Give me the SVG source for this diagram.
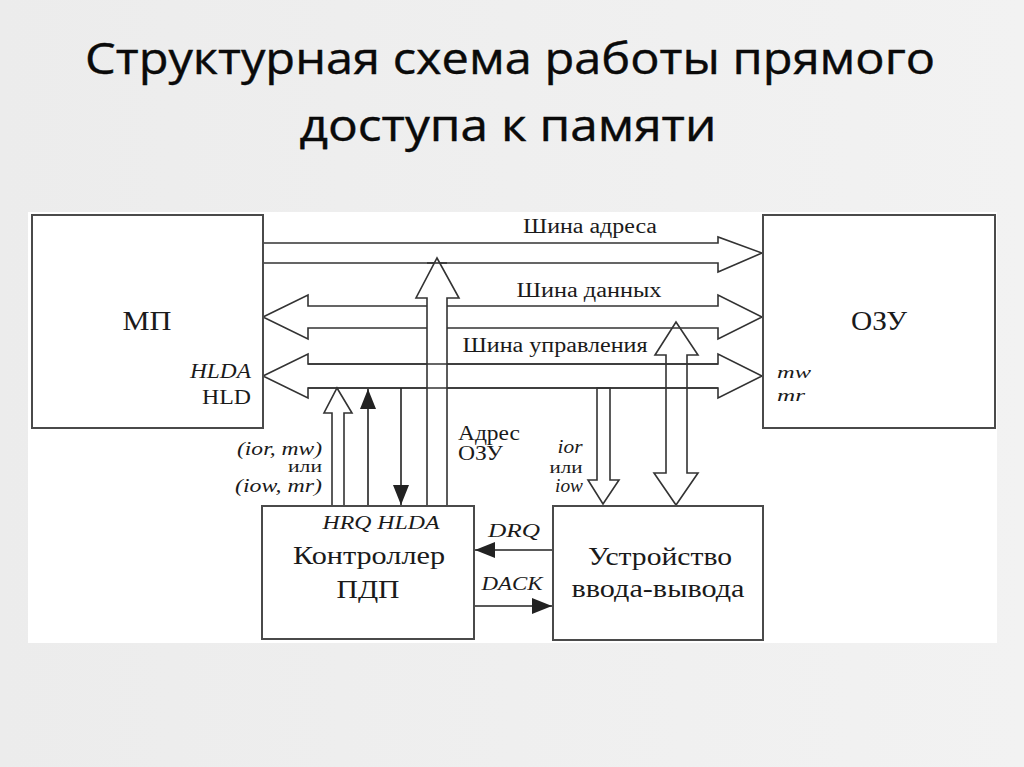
<svg xmlns="http://www.w3.org/2000/svg" width="1024" height="767" viewBox="0 0 1024 767">
<defs>
<linearGradient id="bg" x1="0" y1="0" x2="1" y2="0">
<stop offset="0" stop-color="#ececec"/>
<stop offset="1" stop-color="#f2f2f2"/>
</linearGradient>
<marker id="ah" markerWidth="20" markerHeight="16" refX="20" refY="8" orient="auto" markerUnits="userSpaceOnUse">
<path d="M0,0 L20,8 L0,16 Z" fill="#222"/>
</marker>
</defs>
<style>
.title{font-family:"Open Sans","Noto Sans",sans-serif;font-size:43px;fill:#0a0a0a;stroke:#0a0a0a;stroke-width:0.4}
.box{fill:#fff;stroke:#4a4a4a;stroke-width:2}
.bus{fill:#fff;stroke:#333;stroke-width:1.6}
.ol{fill:none;stroke:#333;stroke-width:1.6}
.ln{fill:none;stroke:#222;stroke-width:1.6}
.t{font-family:"Liberation Serif","Times New Roman",serif;fill:#1a1a1a}
.i{font-style:italic}
</style>
<rect x="0" y="0" width="1024" height="767" fill="url(#bg)"/>
<rect x="28" y="212" width="969" height="431" fill="#fff"/>
<text class="title" x="510" y="74" text-anchor="middle" textLength="850" lengthAdjust="spacingAndGlyphs">Структурная схема работы прямого</text>
<text class="title" x="508" y="141" text-anchor="middle" textLength="417" lengthAdjust="spacingAndGlyphs">доступа к памяти</text>

<g id="connectors">
<polygon class="bus" points="263,243 718,243 718,237 762,253 718,272 718,263 263,263"/>
<polygon class="bus" points="263,317 308,295 308,306 718,306 718,295 762,317 718,339 718,328 308,328 308,339"/>
<polygon class="bus" points="263,376 308,354 308,364 718,364 718,354 762,376 718,398 718,388 308,388 308,398"/>
<polygon class="bus" points="427,506 427,298 416,298 437,258 459,298 447,298 447,506"/>
<line class="ol" x1="308" y1="364" x2="718" y2="364"/>
<line class="ol" x1="308" y1="388" x2="718" y2="388"/>
<line class="ol" x1="427" y1="263" x2="447" y2="263"/>
<polygon class="bus" points="332,506 332,413 324,413 337,388 352,413 344,413 344,506"/>
<polygon class="ol" points="666,473 666,355 655,355 676,322 698,355 687,355 687,473 698,473 676,505 654,473"/>
<polygon class="ol" points="597,388 597,480 588,480 603,504 619,480 610,480 610,388"/>
<line class="ln" x1="368" y1="506" x2="368" y2="389" marker-end="url(#ah)"/>
<line class="ln" x1="401" y1="388" x2="401" y2="505" marker-end="url(#ah)"/>
<line class="ln" x1="553" y1="550" x2="475" y2="550" marker-end="url(#ah)"/>
<line class="ln" x1="474" y1="606" x2="552" y2="606" marker-end="url(#ah)"/>
</g>

<g id="mp">
<rect class="box" x="32" y="215" width="231" height="213"/>
<text class="t" x="147" y="330" font-size="27" text-anchor="middle" textLength="49" lengthAdjust="spacingAndGlyphs">МП</text>
<text class="t i" x="251" y="378" font-size="20" text-anchor="end" textLength="61" lengthAdjust="spacingAndGlyphs">HLDA</text>
<text class="t" x="251" y="404" font-size="21" text-anchor="end" textLength="49" lengthAdjust="spacingAndGlyphs">HLD</text>
</g>

<g id="ozu">
<rect class="box" x="763" y="215" width="232" height="213"/>
<text class="t" x="879" y="330" font-size="27" text-anchor="middle" textLength="56" lengthAdjust="spacingAndGlyphs">ОЗУ</text>
<text class="t i" x="777" y="378" font-size="17" textLength="34" lengthAdjust="spacingAndGlyphs">mw</text>
<text class="t i" x="777" y="401" font-size="17" textLength="28" lengthAdjust="spacingAndGlyphs">mr</text>
</g>

<g id="controller">
<rect class="box" x="262" y="506" width="212" height="133"/>
<text class="t i" x="381" y="529" font-size="19" text-anchor="middle" textLength="117" lengthAdjust="spacingAndGlyphs">HRQ HLDA</text>
<text class="t" x="369" y="564" font-size="25" text-anchor="middle" textLength="152" lengthAdjust="spacingAndGlyphs">Контроллер</text>
<text class="t" x="368" y="598" font-size="25" text-anchor="middle" textLength="63" lengthAdjust="spacingAndGlyphs">ПДП</text>
</g>

<g id="io">
<rect class="box" x="553" y="506" width="210" height="134"/>
<text class="t" x="660" y="565" font-size="25" text-anchor="middle" textLength="144" lengthAdjust="spacingAndGlyphs">Устройство</text>
<text class="t" x="658" y="597" font-size="25" text-anchor="middle" textLength="173" lengthAdjust="spacingAndGlyphs">ввода-вывода</text>
</g>

<g id="labels">
<text class="t" x="590" y="233" font-size="20" text-anchor="middle" textLength="134" lengthAdjust="spacingAndGlyphs">Шина адреса</text>
<text class="t" x="589" y="297" font-size="20" text-anchor="middle" textLength="145" lengthAdjust="spacingAndGlyphs">Шина данных</text>
<text class="t" x="555" y="352" font-size="20" text-anchor="middle" textLength="185" lengthAdjust="spacingAndGlyphs">Шина управления</text>
<text class="t" x="458" y="440" font-size="20" textLength="62" lengthAdjust="spacingAndGlyphs">Адрес</text>
<text class="t" x="458" y="460" font-size="20" textLength="45" lengthAdjust="spacingAndGlyphs">ОЗУ</text>
<text class="t i" x="322" y="455" font-size="18" text-anchor="end" textLength="85" lengthAdjust="spacingAndGlyphs">(ior, mw)</text>
<text class="t" x="322" y="472" font-size="17" text-anchor="end" textLength="34" lengthAdjust="spacingAndGlyphs">или</text>
<text class="t i" x="322" y="492" font-size="18" text-anchor="end" textLength="87" lengthAdjust="spacingAndGlyphs">(iow, mr)</text>
<text class="t i" x="570" y="453" font-size="18" text-anchor="middle" textLength="25" lengthAdjust="spacingAndGlyphs">ior</text>
<text class="t" x="566" y="473" font-size="17" text-anchor="middle" textLength="33" lengthAdjust="spacingAndGlyphs">или</text>
<text class="t i" x="569" y="492" font-size="18" text-anchor="middle" textLength="28" lengthAdjust="spacingAndGlyphs">iow</text>
<text class="t i" x="514" y="537" font-size="18" text-anchor="middle" textLength="52" lengthAdjust="spacingAndGlyphs">DRQ</text>
<text class="t i" x="512" y="590" font-size="18" text-anchor="middle" textLength="61" lengthAdjust="spacingAndGlyphs">DACK</text>
</g>
</svg>
